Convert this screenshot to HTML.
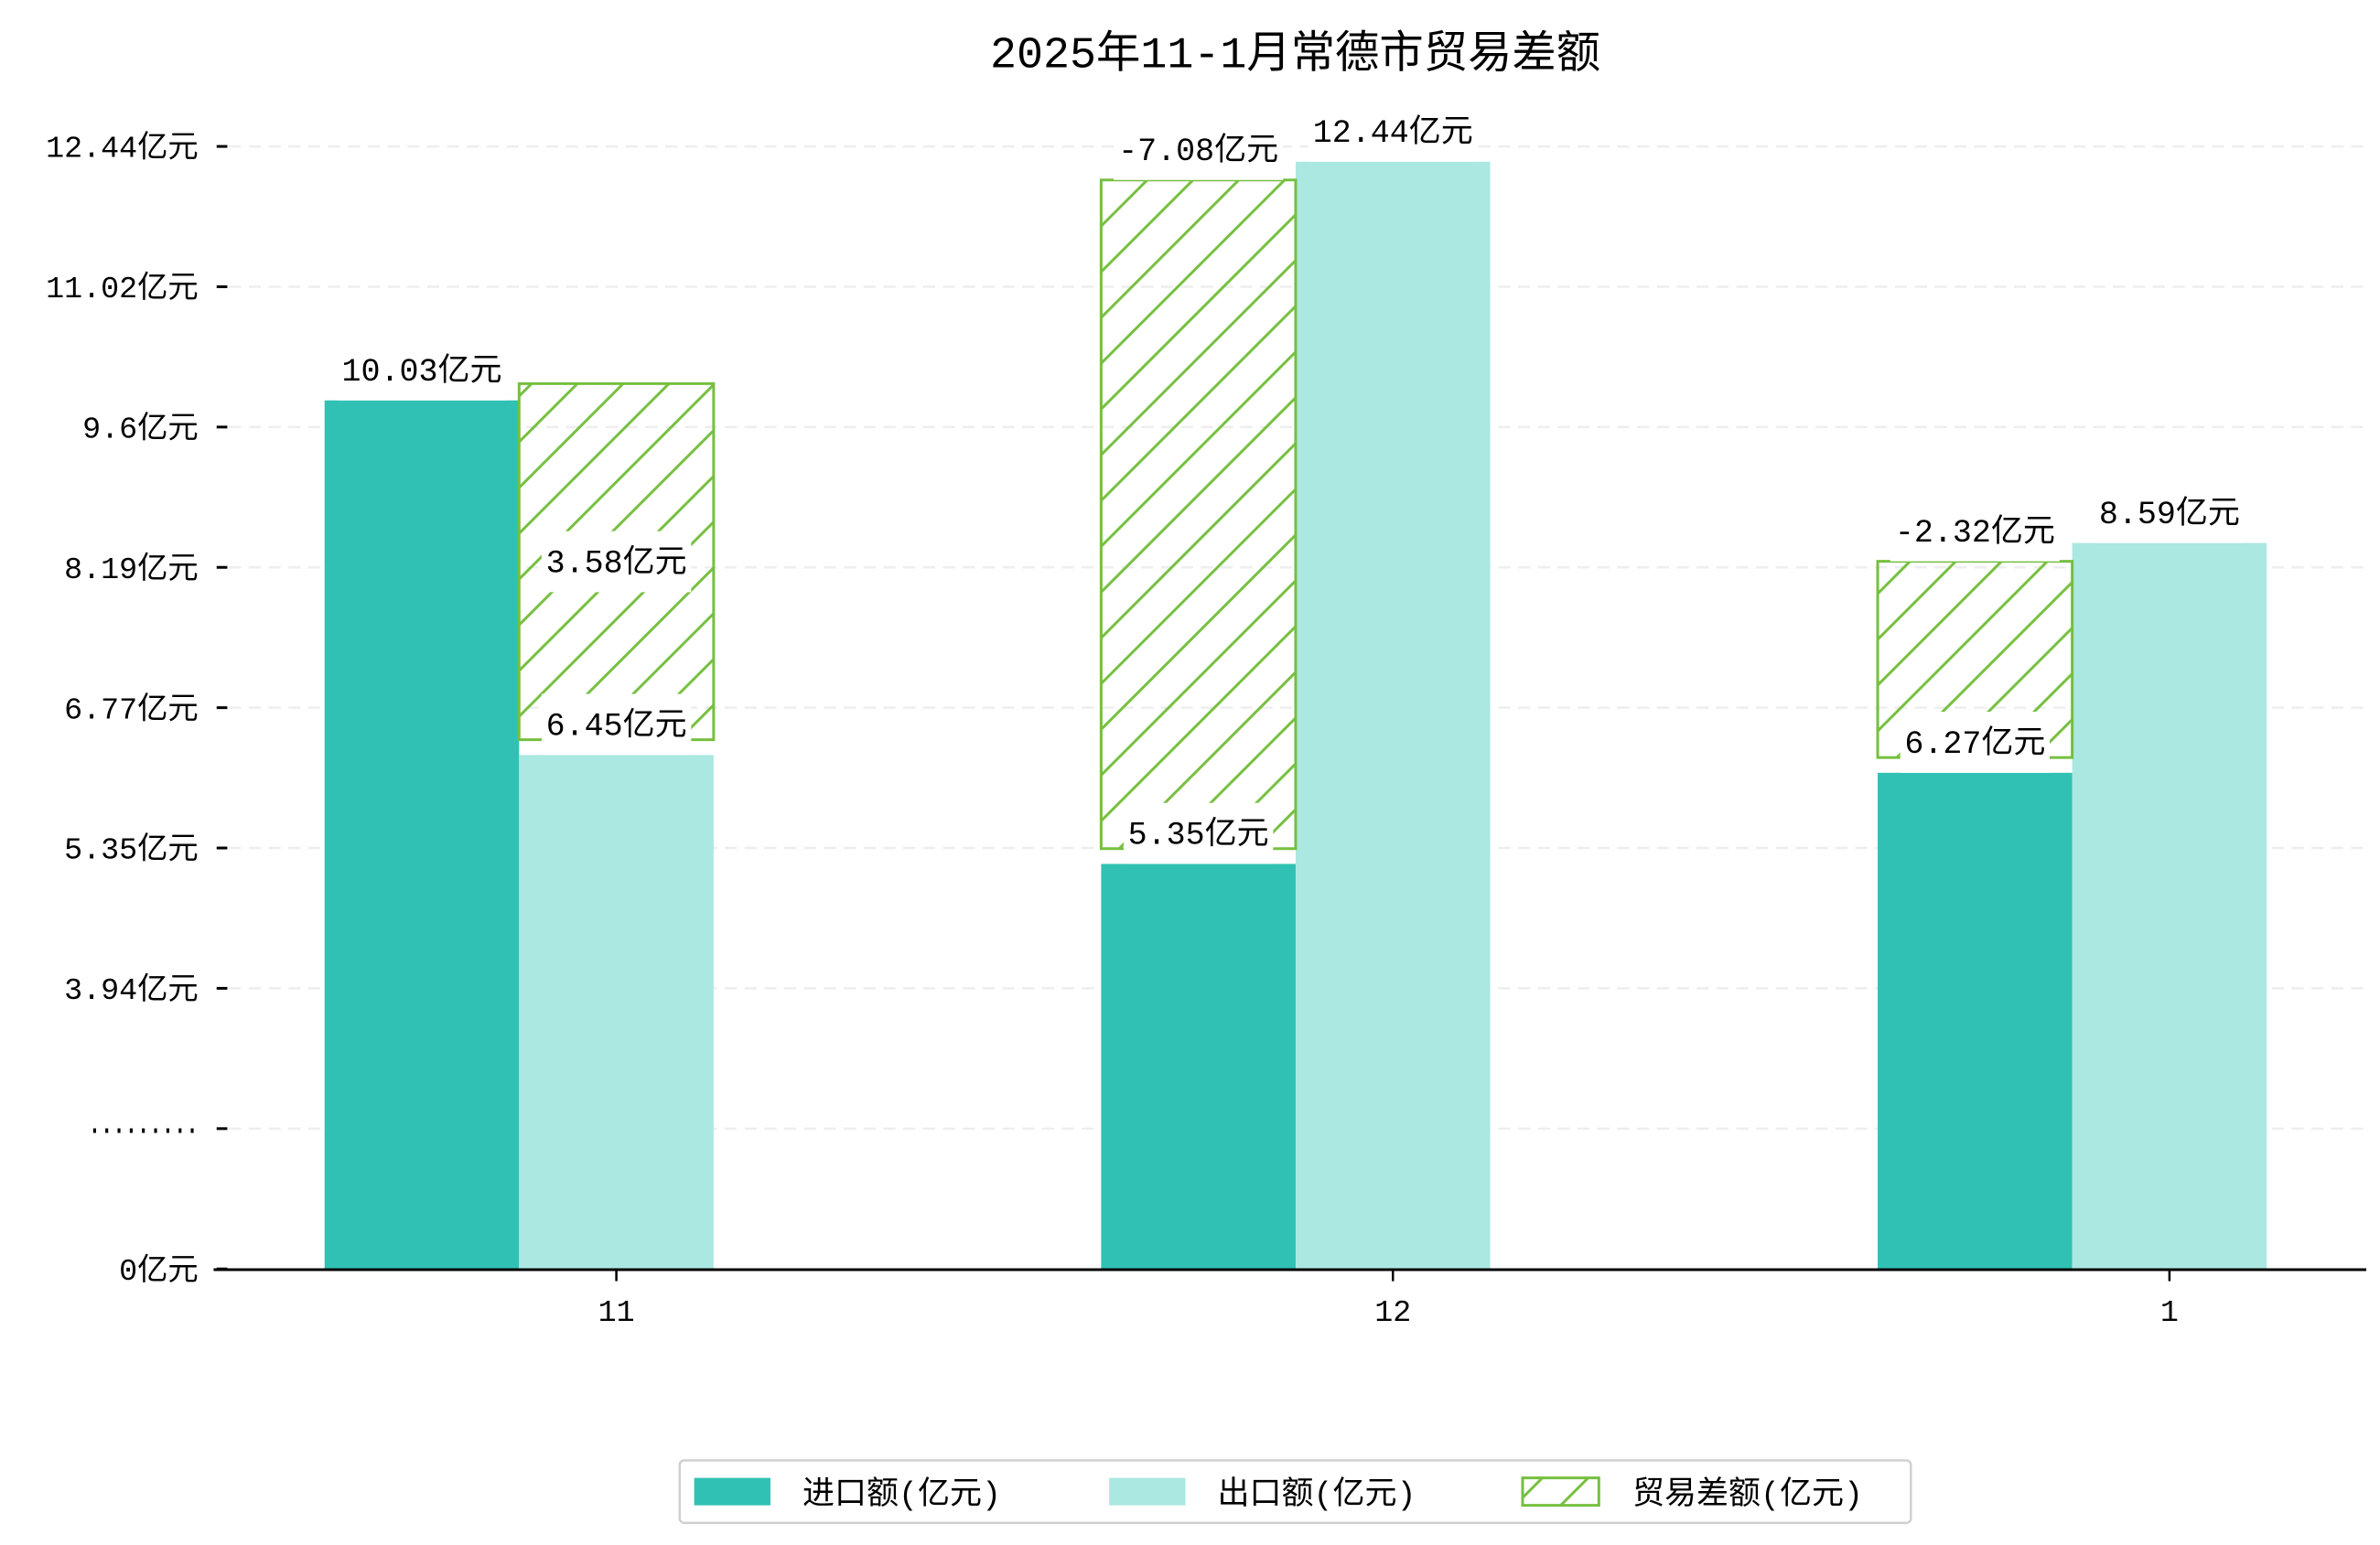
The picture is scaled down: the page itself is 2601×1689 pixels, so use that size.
<!DOCTYPE html>
<html><head><meta charset="utf-8">
<style>
html,body{margin:0;padding:0;background:#fff;}
svg{display:block;font-family:"Liberation Mono","WenQuanYi Zen Hei","Noto Sans CJK SC",monospace;}
</style></head>
<body>
<svg id="chart" width="2601" height="1689" viewBox="0 0 1560 1013" xmlns="http://www.w3.org/2000/svg">
<defs>
<pattern id="hatch" patternUnits="userSpaceOnUse" width="30" height="30">
<path d="M-7.5,7.5 L7.5,-7.5 M0,30 L30,0 M22.5,37.5 L37.5,22.5" stroke="#76bf40" stroke-width="1.8"/>
</pattern>
</defs>
<text x="849" y="44" font-size="29" text-anchor="middle" fill="#000">2025年11-1月常德市贸易差额</text>
<g id="grid"></g>
<g id="yaxis"></g>
<g id="bars"></g>
<g id="labels"></g>
<line x1="140" y1="832.5" x2="1551" y2="832.5" stroke="#000" stroke-width="1.8"/>
<g id="xaxis"></g>
<g>
<rect x="445.5" y="957.5" width="807" height="41" rx="3" fill="#fff" stroke="#d0d0d0" stroke-width="1.5"/>
<rect x="455" y="969" width="50" height="18" fill="#31c1b4"/>
<text x="526" y="986" font-size="21">进口额(亿元)</text>
<rect x="727" y="969" width="50" height="18" fill="#abe8e2"/>
<text x="798" y="986" font-size="21">出口额(亿元)</text>
<rect x="998" y="969" width="50" height="18" fill="url(#hatch)" stroke="#76bf40" stroke-width="1.8"/>
<text x="1070" y="986" font-size="21">贸易差额(亿元)</text>
</g>
</svg>
<script>
const categories = ["11", "12", "1"];
const importValues = [10.03, 5.35, 6.27];
const exportValues = [6.45, 12.44, 8.59];
const balanceValues = [3.58, -7.08, -2.32];
const tickValues = [0, null, 3.94, 5.35, 6.77, 8.19, 9.6, 11.02, 12.44];
const tickLabels = ["0亿元", "·········", "3.94亿元", "5.35亿元", "6.77亿元", "8.19亿元", "9.6亿元", "11.02亿元", "12.44亿元"];

const NS = "http://www.w3.org/2000/svg";
const base = 832, brk = 3.94, brkY = 648, pxPer = 92 / 1.4167;
function tickY(i){ return base - i * 92; }
function yv(v){
  if (v >= brk) return brkY + 10 - (v - brk) * pxPer;
  return base - (v / brk) * (base - brkY - 10);
}
function xc(i){ return 404 + i * 509; }
const bw = 127.5;
function mk(tag, attrs, parent){
  const e = document.createElementNS(NS, tag);
  for (const k in attrs) e.setAttribute(k, attrs[k]);
  parent.appendChild(e); return e;
}
const grid = document.getElementById('grid'), yax = document.getElementById('yaxis');
const bars = document.getElementById('bars'), labs = document.getElementById('labels'), xax = document.getElementById('xaxis');

tickLabels.forEach((t, i) => {
  const y = tickY(i);
  if (i > 0) {
    const g = mk('line', {x1:150, x2:1550, y1:y, y2:y, stroke:'#eeeeee', 'stroke-width':1.5, 'stroke-dasharray':'8,5'}, grid);
    
    
  }
  const tk = mk('line', {x1:142, x2:149, y1:y, y2:y, stroke:'#000', 'stroke-width':1.8}, yax);
  
  
  const isDots = tickValues[i] === null;
  const tx = mk('text', {x:130, y:y + 7, 'font-size':isDots ? 20 : 20, 'text-anchor':'end'}, yax);
  if (isDots) { tx.setAttribute('textLength', '72'); tx.setAttribute('lengthAdjust', 'spacingAndGlyphs'); tx.setAttribute('font-weight', 'bold'); }
  
  
  tx.textContent = t;
});

function label(txt, cx, bottom, center){
  const w = Math.min(bw - 6, txt.length * 13 + 20), h = 40;
  const y0 = center ? bottom - h / 2 : bottom - h;
  const r = mk('rect', {x:cx - w / 2, y:y0, width:w, height:h, fill:'#fff'}, labs);
  
  
  const t = mk('text', {x:cx, y:y0 + 27, 'font-size':21, 'text-anchor':'middle'}, labs);
  
  
  t.textContent = txt;
}
function fmt(v){ return (Math.round(v * 100) / 100).toString(); }

categories.forEach((c, i) => {
  const cx = xc(i);
  const xi = cx - 1.5 * bw, xe = cx - 0.5 * bw;
  const yi = yv(importValues[i]), ye = yv(exportValues[i]);
  const bi = mk('rect', {x:xi, y:yi, width:bw, height:base - yi, fill:'#31c1b4'}, bars);
  
  
  const be = mk('rect', {x:xe, y:ye, width:bw, height:base - ye, fill:'#abe8e2'}, bars);
  
  
  const d = balanceValues[i];
  const hi = Math.max(importValues[i], exportValues[i]), lo = Math.min(importValues[i], exportValues[i]);
  const top = d >= 0 ? yv(hi) - 11 : yv(hi) + 12;
  const bot = yv(lo) - 10;
  const hx = d >= 0 ? xe : xi;
  const hb = mk('rect', {x:hx, y:top, width:bw, height:bot - top, fill:'url(#hatch)', stroke:'#76bf40', 'stroke-width':1.8}, bars);
  
  
  label(fmt(importValues[i]) + '亿元', xi + bw / 2, yi, false);
  label(exportValues[i].toFixed(2) + '亿元', xe + bw / 2, ye, false);
  if (d >= 0) label(d.toFixed(2) + '亿元', hx + bw / 2, (top + bot) / 2, true);
  else label(d.toFixed(2) + '亿元', hx + bw / 2, top, false);
  const xt = mk('line', {x1:cx, x2:cx, y1:833, y2:840, stroke:'#000', 'stroke-width':1.5}, xax);
  
  
  const xl = mk('text', {x:cx, y:866, 'font-size':20, 'text-anchor':'middle'}, xax);
  
  
  xl.textContent = c;
});
</script>
</body></html>
